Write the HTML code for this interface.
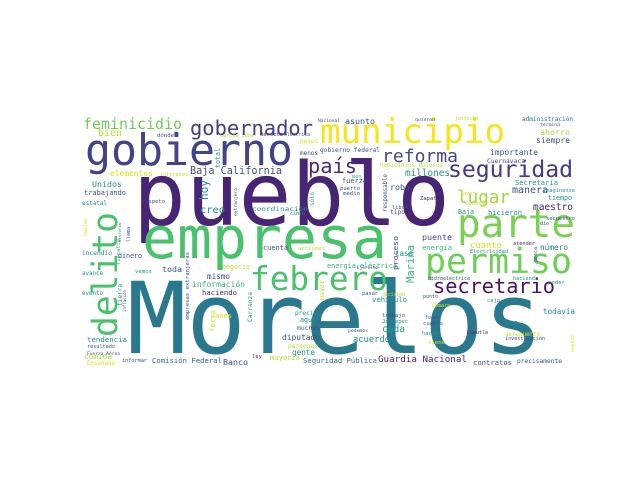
<!DOCTYPE html>
<html><head><meta charset="utf-8">
<style>
html,body{margin:0;padding:0;background:#fff;}
svg{display:block;}
text{font-family:"DejaVu Sans Mono","Liberation Mono",monospace;}
</style></head>
<body>
<svg id="cloud" width="640" height="480" viewBox="0 0 640 480" xmlns="http://www.w3.org/2000/svg">
<rect width="640" height="480" fill="#fff"/>
</svg>
<script>
// horizontal words: text, x, baseline y, font size (hint), width, colour
const words = [
["Morelos",127,353,104,416,"#2a788e"],
["pueblo",133,225,85,317,"#482475"],
["empresa",142,258,64,245,"#4ac16d"],
["gobierno",85,165,44,208,"#414487"],
["municipio",320,143,34,185,"#f5e51f"],
["parte",457,237,37,118,"#7ad151"],
["permiso",425,273,34,147,"#6ece58"],
["febrero",250,290,33,138,"#4ac16d"],
["secretario",433,293,27,122,"#481467"],
["seguridad",448,177,26,125,"#443983"],
["lugar",457,203,22,53,"#a0da39"],
["reforma",382,162,20,76,"#3e4a89"],
["país",308,173,22,49,"#472d7b"],
["gobernador",190,135,20,123,"#433e85"],
["feminicidio",83,129,17,99,"#6ece58"],
["Baja California",190,174,11,92,"#3b528b"],
["elementos",110,176,9,43,"#d8e219"],
["intereses",160,176,7,28,"#c8e020"],
["Unidos",92,187,10,30,"#21918c"],
["trabajando",84,195,9,42,"#3b528b"],
["estatal",82,205,8,25,"#21918c"],
["creo",200,213,9,25,"#21918c"],
["respeto",142,203,6,23,"#3e4a89"],
["coordinación",252,211,6,56,"#21918c"],
["cinco",290,215,6,15,"#21918c"],
["fuerza",342,183,9,25,"#3b528b"],
["puerto",340,190,6,20,"#3b528b"],
["medio",343,195,6,17,"#3b528b"],
["robo",390,190,8,20,"#3b528b"],
["libre",392,209,6,16,"#3b528b"],
["tipo",390,214,7,15,"#3b528b"],
["Zapata",420,200,7,20,"#482878"],
["millones",405,176,10,45,"#21918c"],
["Cuernavaca",487,163,9,38,"#3e4a89"],
["importante",490,155,10,48,"#3b528b"],
["ahorro",540,135,11,30,"#a0da39"],
["siempre",536,143,9,34,"#3b528b"],
["administración",522,121,8,51,"#2a788e"],
["asunto",345,124,10,30,"#3b528b"],
["Secretaría",515,185,9,43,"#21918c"],
["manera",512,193,9,36,"#3b528b"],
["Imagínense",543,192,7,32,"#21918c"],
["tiempo",548,200,7,24,"#21918c"],
["maestro",533,210,12,40,"#482878"],
["secuestro",546,220,6,29,"#3b528b"],
["hicieron",488,215,9,34,"#21918c"],
["Baja",458,214,9,16,"#21918c"],
["puente",422,240,9,30,"#3e4a89"],
["cuanto",470,248,11,32,"#d8e219"],
["energía",422,250,9,30,"#35b779"],
["Electricidad",470,253,8,38,"#21918c"],
["número",540,250,9,28,"#2a788e"],
["atender",513,245,7,22,"#482878"],
["tasa",395,256,9,18,"#21918c"],
["energía eléctrica",327,268,9,70,"#35b779"],
["Ejército",357,269,6,21,"#3b528b"],
["negocio",222,269,7,28,"#b5de2b"],
["toda",162,272,10,20,"#3b528b"],
["mismo",207,279,9,23,"#3b528b"],
["información",192,287,11,53,"#35b779"],
["haciendo",202,295,9,35,"#482878"],
["dinero",118,258,8,24,"#3b528b"],
["incendio",82,255,7,30,"#21918c"],
["cuenta",263,250,7,25,"#3b528b"],
["acciones",298,250,6,27,"#b5de2b"],
["vemos",135,273,6,17,"#21918c"],
["avance",82,275,6,21,"#21918c"],
["evento",82,295,6,21,"#21918c"],
["vehículo",372,302,9,35,"#21918c"],
["precio",295,315,11,22,"#21918c"],
["agua",300,322,8,16,"#21918c"],
["muchas",297,330,8,23,"#3b528b"],
["diputado",282,340,11,38,"#3b528b"],
["personas",288,348,7,30,"#b5de2b"],
["gente",292,355,10,23,"#21918c"],
["trabajo",382,317,7,23,"#3b528b"],
["fondo",425,319,7,15,"#3b528b"],
["Jiutepec",382,323,6,26,"#21918c"],
["cuatro",423,325,6,20,"#3b528b"],
["cada",382,332,10,23,"#1f9e89"],
["podemos",348,332,6,20,"#3b528b"],
["acuerdo",353,342,12,37,"#21918c"],
["hacia",422,335,7,16,"#21918c"],
["viene",428,344,7,17,"#d8e219"],
["Cuautla",467,334,6,21,"#482878"],
["aeropuerto",505,336,6,35,"#d8e219"],
["investigación",505,340,8,40,"#3b528b"],
["todavía",543,314,9,32,"#21918c"],
["vez",505,325,7,13,"#21918c"],
["caja",487,302,8,13,"#21918c"],
["Cámara",432,307,6,18,"#d8e219"],
["punto",423,298,6,15,"#3b528b"],
["decisión",382,296,6,23,"#b5de2b"],
["pasar",362,295,6,16,"#3b528b"],
["hidroeléctrica",428,280,6,42,"#3b528b"],
["hacienda",513,280,6,25,"#21918c"],
["poder",548,284,6,17,"#21918c"],
["tendencia",87,342,9,40,"#21918c"],
["resultado",87,348,8,28,"#3b528b"],
["Fuerza Aérea",87,355,6,33,"#3b528b"],
["comida",84,359,9,28,"#a0da39"],
["Ensenada",87,365,6,28,"#d8e219"],
["informar",122,362,7,25,"#3b528b"],
["Comisión Federal",152,363,10,70,"#31688e"],
["Banco",223,365,10,25,"#3b528b"],
["ley",252,358,9,10,"#482878"],
["mayoría",270,360,8,30,"#b5de2b"],
["Seguridad Pública",303,363,10,74,"#31688e"],
["Guardia Nacional",378,362,13,89,"#482475"],
["contratos",473,365,9,39,"#3b528b"],
["precisamente",517,363,8,45,"#3b528b"],
["años",215,318,7,17,"#d8e219"],
["pesos",300,143,7,18,"#d8e219"],
["menos",300,155,7,18,"#3b528b"],
["gobierno federal",320,152,7,60,"#3b528b"],
["homicidios dolosos",380,167,6,63,"#b5de2b"],
["mes",352,178,6,10,"#35b779"],
["Nacional",318,122,6,22,"#3b528b"],
["justicia",455,120,7,23,"#b5de2b"],
["quieren",415,121,6,20,"#3b528b"],
["termina",540,126,6,20,"#3b528b"],
["bien",98,136,10,24,"#b5de2b"],
["dónde",157,137,6,17,"#3b528b"],
["García Luna",220,137,6,34,"#b5de2b"],
["derecho",260,136,8,23,"#482878"],
["eléctrica",284,136,6,26,"#3b528b"],
["favor",460,195,6,15,"#d8e219"],
["conocer",465,205,6,24,"#b5de2b"],
["dio",540,225,6,9,"#3b528b"]
];
// vertical words (read bottom to top): text, baseline x, bottom y, font size (hint), length, colour
const vwords = [
["delito",117,337,40,125,"#4ac16d"],
["hoy",208,200,11,20,"#21918c"],
["total",220,168,10,20,"#21918c"],
["Marina",414,283,13,38,"#35b779"],
["proceso",398,270,7,34,"#3b528b"],
["forma",215,332,8,22,"#d8e219"],
["tierra",122,306,8,22,"#21918c"],
["empresas extranjeras",189,320,7,68,"#3b528b"],
["Carranza",252,322,7,30,"#21918c"],
["fiscalía",120,265,6,26,"#35b779"],
["mayor",324,300,6,20,"#b5de2b"],
["pesca",537,262,6,15,"#3b528b"],
["empezó",574,352,6,17,"#d8e219"],
["responsable",387,212,6,38,"#3b528b"],
["sólo",314,206,6,14,"#35b779"],
["extranjero",237,216,6,28,"#3b528b"],
["nadie",372,207,6,16,"#3b528b"],
["historia",121,242,6,19,"#3b528b"],
["llama",130,242,6,15,"#3b528b"],
["hablar",87,236,6,18,"#d8e219"],
["inflación",126,312,6,22,"#3b528b"]
];
const NS="http://www.w3.org/2000/svg";
const svg=document.getElementById('cloud');
function slug(s){return s.toLowerCase().normalize('NFD').replace(/[\u0300-\u036f]/g,'').replace(/[^a-z0-9]+/g,'-');}
function fitSize(w){ // monospace: size derived from width so glyphs keep natural proportions
  const nat=w[4]/(w[0].length*0.602);
  return Math.min(nat, w[3]*1.05);
}
for(const w of words){
  const t=document.createElementNS(NS,'text');
  t.setAttribute('x',w[1]);t.setAttribute('y',w[2]);
  t.setAttribute('font-size',fitSize(w).toFixed(1));
  t.setAttribute('textLength',w[4]);
  t.setAttribute('lengthAdjust','spacingAndGlyphs');
  t.setAttribute('fill',w[5]);
  t.textContent=w[0];
  
  
  svg.appendChild(t);
}
for(const w of vwords){
  const t=document.createElementNS(NS,'text');
  t.setAttribute('transform','translate('+w[1]+','+w[2]+') rotate(-90)');
  t.setAttribute('x',0);t.setAttribute('y',0);
  t.setAttribute('font-size',fitSize(w).toFixed(1));
  t.setAttribute('textLength',w[4]);
  t.setAttribute('lengthAdjust','spacingAndGlyphs');
  t.setAttribute('fill',w[5]);
  t.textContent=w[0];
  
  
  svg.appendChild(t);
}
</script>
</body></html>
